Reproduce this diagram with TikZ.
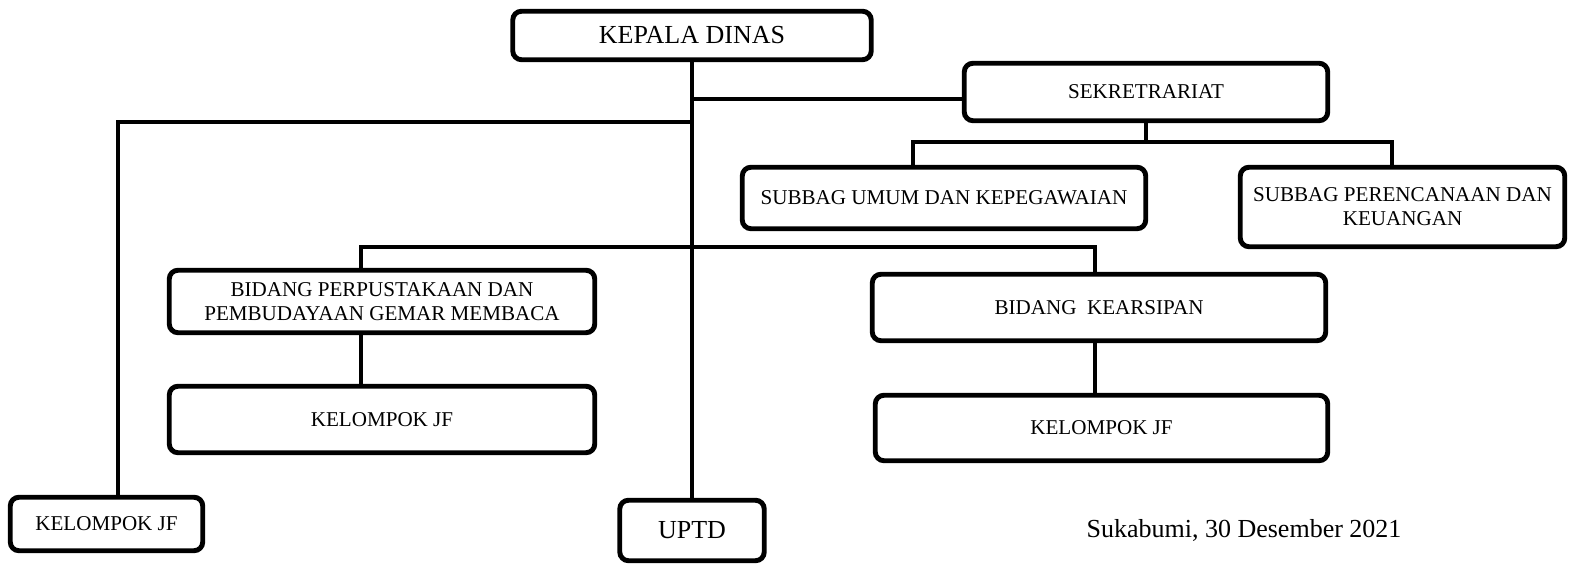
\documentclass[tikz,border=0pt]{standalone}
\usepackage{fontspec}
\setmainfont{Liberation Serif}
\usetikzlibrary{positioning}

\begin{document}
\begin{tikzpicture}[
    line width=2.8pt,
    font=\fontsize{12}{13.6}\selectfont
]
\tikzset{
    mybox/.style = {rectangle, rounded corners=5pt, draw=black, align=center, inner sep=2pt},
    mybigbox/.style = {mybox, font=\fontsize{14.8}{17}\selectfont},
    edgen/.style = {-, line cap=rect}
}
\useasboundingbox (0,0) rectangle (31.38,11.30);
\node[mybigbox, minimum width=7.17cm, minimum height=0.97cm] at (13.84,10.59) (kd) {KEPALA DINAS};
\node[mybox, minimum width=7.27cm, minimum height=1.15cm] at (22.92,9.46) (sek) {SEKRETRARIAT};
\node[mybox, minimum width=8.07cm, minimum height=1.23cm] at (18.88,7.34) (su) {SUBBAG UMUM DAN KEPEGAWAIAN};
\node[mybox, minimum width=6.49cm, minimum height=1.59cm] at (28.05,7.16) (sp) {SUBBAG PERENCANAAN DAN\\KEUANGAN};
\node[mybox, minimum width=8.51cm, minimum height=1.25cm] at (7.64,5.27) (bp) {BIDANG PERPUSTAKAAN DAN\\PEMBUDAYAAN GEMAR MEMBACA};
\node[mybox, minimum width=8.51cm, minimum height=1.33cm] at (7.64,2.91) (kjfa) {KELOMPOK JF};
\node[mybox, minimum width=9.07cm, minimum height=1.33cm] at (21.98,5.15) (bk) {BIDANG\ \ KEARSIPAN};
\node[mybox, minimum width=9.05cm, minimum height=1.31cm] at (22.03,2.74) (kjfb) {KELOMPOK JF};
\node[mybox, minimum width=3.85cm, minimum height=1.07cm] at (2.13,0.82) (kjfc) {KELOMPOK JF};
\node[mybigbox, minimum width=2.89cm, minimum height=1.21cm] at (13.84,0.69) (uptd) {UPTD};
\node[font=\fontsize{14.8}{17}\selectfont] at (24.88,0.70) (ttd) {Sukabumi, 30 Desember 2021};
% titik bantu
\coordinate (sj) at (22.92,9.32);
\coordinate (lj) at (2.36,8.86);
\coordinate (sekbus) at (22.92,8.46);
\coordinate (subl) at (18.26,8.46);
\coordinate (subr) at (27.84,8.46);
\coordinate (bidl) at (7.22,6.36);
\coordinate (bidr) at (21.90,6.36);
% garis
\draw[edgen] (kd) -- (uptd);
\draw[edgen] (kd.south |- sj) -- (sek.west |- sj);
\draw[edgen] (kd.south |- lj) -- (lj) -- (lj |- kjfc.north);
\draw[edgen] (sek.south) -- (sekbus);
\draw[edgen] (subl |- su.north) -- (subl) -- (subr) -- (subr |- sp.north);
\draw[edgen] (bidl |- bp.north) -- (bidl) -- (bidr) -- (bidr |- bk.north);
\draw[edgen] (bidl |- bp.south) -- (bidl |- kjfa.north);
\draw[edgen] (bidr |- bk.south) -- (bidr |- kjfb.north);
\end{tikzpicture}
\end{document}
